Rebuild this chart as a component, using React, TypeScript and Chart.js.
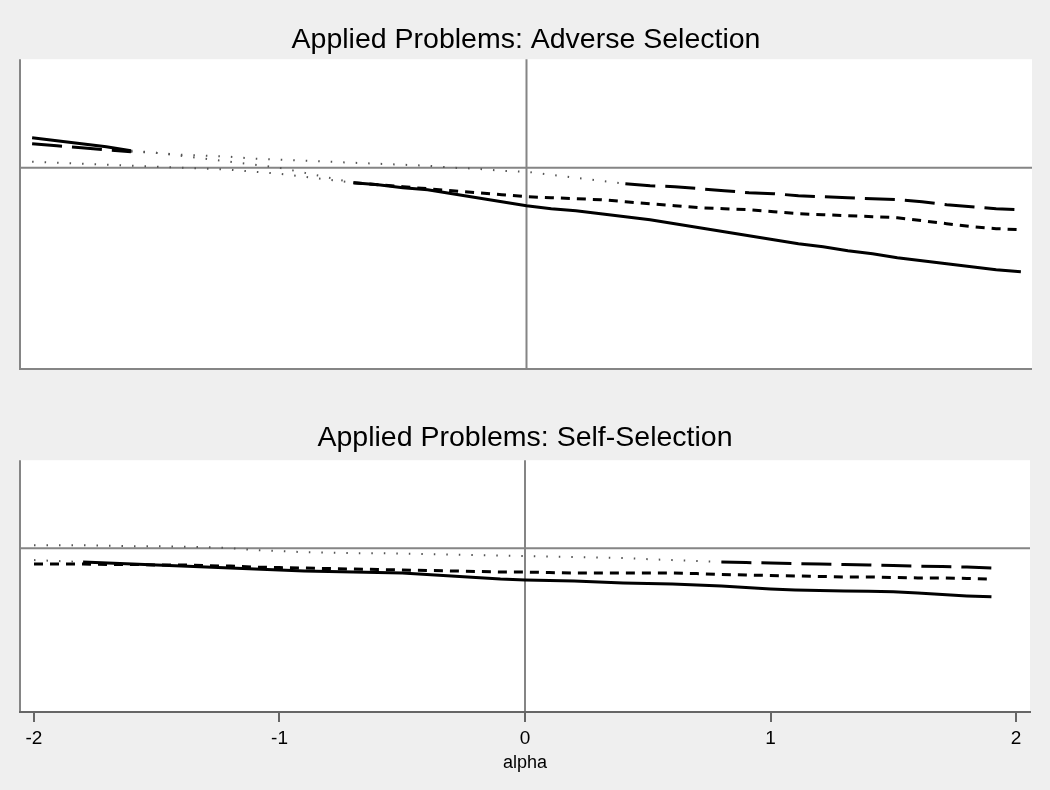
import React, { useEffect, useRef } from "react";
import { Chart, registerables } from "chart.js";
Chart.register(...registerables);

// ---------- data ----------
const alphaTop = [-2.0, -1.9, -1.8, -1.7, -1.6, -1.5, -1.4, -1.3, -1.2, -1.1, -1.0, -0.9, -0.8, -0.7, -0.6, -0.5, -0.4, -0.3, -0.2, -0.1, 0.0, 0.1, 0.2, 0.3, 0.4, 0.5, 0.6, 0.7, 0.8, 0.9, 1.0, 1.1, 1.2, 1.3, 1.4, 1.5, 1.6, 1.7, 1.8, 1.9, 2.0];
const alphaBottom = [-2.0, -1.9, -1.8, -1.7, -1.6, -1.5, -1.4, -1.3, -1.2, -1.1, -1.0, -0.9, -0.8, -0.7, -0.6, -0.5, -0.4, -0.3, -0.2, -0.1, 0.0, 0.1, 0.2, 0.3, 0.4, 0.5, 0.6, 0.7, 0.8, 0.9, 1.0, 1.1, 1.2, 1.3, 1.4, 1.5, 1.6, 1.7, 1.8, 1.9];

// Adverse selection
const adverseSolid = [0.150, 0.135, 0.120, 0.105, 0.085, 0.075, 0.060, 0.045, 0.030, 0.015, 0.000, -0.025, -0.050, -0.075, -0.085, -0.100, -0.110, -0.130, -0.150, -0.170, -0.190, -0.205, -0.215, -0.230, -0.245, -0.260, -0.280, -0.300, -0.320, -0.340, -0.360, -0.380, -0.395, -0.415, -0.430, -0.450, -0.465, -0.480, -0.495, -0.510, -0.520];
const adverseSolidSig = [1, 1, 1, 1, 1, 0, 0, 0, 0, 0, 0, 0, 0, 1, 1, 1, 1, 1, 1, 1, 1, 1, 1, 1, 1, 1, 1, 1, 1, 1, 1, 1, 1, 1, 1, 1, 1, 1, 1, 1, 1];
const adverseShort = [0.030, 0.025, 0.020, 0.015, 0.010, 0.005, 0.000, -0.005, -0.010, -0.020, -0.030, -0.045, -0.060, -0.075, -0.085, -0.095, -0.105, -0.115, -0.125, -0.135, -0.145, -0.150, -0.155, -0.160, -0.170, -0.180, -0.190, -0.200, -0.205, -0.210, -0.220, -0.230, -0.235, -0.240, -0.245, -0.250, -0.265, -0.280, -0.295, -0.305, -0.310];
const adverseShortSig = [0, 0, 0, 0, 0, 0, 0, 0, 0, 0, 0, 0, 0, 1, 1, 1, 1, 1, 1, 1, 1, 1, 1, 1, 1, 1, 1, 1, 1, 1, 1, 1, 1, 1, 1, 1, 1, 1, 1, 1, 1];
const adverseLong = [0.120, 0.110, 0.100, 0.090, 0.080, 0.075, 0.065, 0.060, 0.055, 0.045, 0.040, 0.035, 0.030, 0.025, 0.020, 0.015, 0.010, 0.000, -0.005, -0.015, -0.020, -0.035, -0.050, -0.065, -0.080, -0.090, -0.095, -0.105, -0.115, -0.125, -0.130, -0.140, -0.145, -0.150, -0.155, -0.160, -0.170, -0.185, -0.195, -0.205, -0.210];
const adverseLongSig = [1, 1, 1, 1, 1, 0, 0, 0, 0, 0, 0, 0, 0, 0, 0, 0, 0, 0, 0, 0, 0, 0, 0, 0, 1, 1, 1, 1, 1, 1, 1, 1, 1, 1, 1, 1, 1, 1, 1, 1, 1];

// Self-selection
const selfSolid = [-0.074, -0.080, -0.086, -0.092, -0.098, -0.104, -0.111, -0.117, -0.123, -0.129, -0.135, -0.141, -0.144, -0.148, -0.151, -0.154, -0.163, -0.172, -0.181, -0.191, -0.197, -0.200, -0.203, -0.209, -0.215, -0.218, -0.221, -0.227, -0.234, -0.243, -0.252, -0.258, -0.261, -0.264, -0.267, -0.270, -0.277, -0.286, -0.295, -0.301];
const selfSolidSig = [0, 0, 1, 1, 1, 1, 1, 1, 1, 1, 1, 1, 1, 1, 1, 1, 1, 1, 1, 1, 1, 1, 1, 1, 1, 1, 1, 1, 1, 1, 1, 1, 1, 1, 1, 1, 1, 1, 1, 1];
const selfShort = [-0.098, -0.098, -0.098, -0.101, -0.101, -0.104, -0.104, -0.108, -0.111, -0.117, -0.120, -0.123, -0.126, -0.129, -0.132, -0.135, -0.138, -0.141, -0.144, -0.148, -0.148, -0.151, -0.154, -0.154, -0.154, -0.154, -0.154, -0.157, -0.163, -0.166, -0.169, -0.172, -0.175, -0.178, -0.178, -0.181, -0.184, -0.184, -0.187, -0.191];
const selfShortSig = [1, 1, 1, 1, 1, 1, 1, 1, 1, 1, 1, 1, 1, 1, 1, 1, 1, 1, 1, 1, 1, 1, 1, 1, 1, 1, 1, 1, 1, 1, 1, 1, 1, 1, 1, 1, 1, 1, 1, 1];
const selfLong = [0.018, 0.018, 0.018, 0.015, 0.012, 0.012, 0.009, 0.006, 0.000, -0.012, -0.018, -0.025, -0.028, -0.031, -0.031, -0.034, -0.037, -0.040, -0.043, -0.046, -0.049, -0.052, -0.055, -0.058, -0.061, -0.068, -0.074, -0.080, -0.086, -0.089, -0.092, -0.095, -0.098, -0.101, -0.104, -0.108, -0.111, -0.114, -0.117, -0.123];
const selfLongSig = [0, 0, 0, 0, 0, 0, 0, 0, 0, 0, 0, 0, 0, 0, 0, 0, 0, 0, 0, 0, 0, 0, 0, 0, 0, 0, 0, 0, 1, 1, 1, 1, 1, 1, 1, 1, 1, 1, 1, 1];

const xTickValues = [-2, -1, 0, 1, 2];
const xAxisTitle = "alpha";
const titleTop = "Applied Problems: Adverse Selection";
const titleBottom = "Applied Problems: Self-Selection";
const yMin = -1.012;
const yMax = 0.543;

// ---------- styles ----------
const FONT = "'Liberation Sans', Arial, Helvetica, sans-serif";
const BG = "#efefef";
const FRAME = "#858585";
const DOT_DASH = [1.5, 11];
const DOT_COLOR = "#555";
const DOT_WIDTH = 2;

type Pattern = "solid" | "short" | "long";
const patternDash: Record<Pattern, number[]> = {
  solid: [],
  short: [9, 7],
  long: [30, 10],
};

function makeDataset(xs: number[], ys: number[], sig: number[], pattern: Pattern) {
  const isSig = (i: number) => sig[i] === 1;
  return {
    data: xs.map((x, i) => ({ x, y: ys[i] })),
    borderColor: "#000",
    borderWidth: 3,
    borderDash: patternDash[pattern],
    pointRadius: 0,
    tension: 0,
    fill: false,
    segment: {
      borderDash: (ctx: any) =>
        isSig(ctx.p0DataIndex) && isSig(ctx.p1DataIndex) ? undefined : DOT_DASH,
      borderColor: (ctx: any) =>
        isSig(ctx.p0DataIndex) && isSig(ctx.p1DataIndex) ? undefined : DOT_COLOR,
      borderWidth: (ctx: any) =>
        isSig(ctx.p0DataIndex) && isSig(ctx.p1DataIndex) ? undefined : DOT_WIDTH,
    },
  };
}

const framePlugin = (drawBottom: boolean) => ({
  id: "panelFrame",
  beforeDraw(chart: any) {
    const { ctx, chartArea, scales } = chart;
    const { left, right, top, bottom } = chartArea;
    ctx.save();
    ctx.fillStyle = "#ffffff";
    ctx.fillRect(left, top, right - left, bottom - top);
    ctx.strokeStyle = FRAME;
    ctx.lineWidth = 2;
    const y0 = scales.y.getPixelForValue(0);
    const x0 = scales.x.getPixelForValue(0);
    ctx.beginPath();
    ctx.moveTo(left, y0);
    ctx.lineTo(right, y0);
    ctx.moveTo(x0, top);
    ctx.lineTo(x0, bottom);
    ctx.moveTo(left, top);
    ctx.lineTo(left, bottom);
    if (drawBottom) {
      ctx.moveTo(left, bottom - 1);
      ctx.lineTo(right, bottom - 1);
    }
    ctx.stroke();
    ctx.restore();
  },
});

export default function App() {
  const topRef = useRef<HTMLCanvasElement | null>(null);
  const bottomRef = useRef<HTMLCanvasElement | null>(null);

  useEffect(() => {
    const top = new Chart(topRef.current as HTMLCanvasElement, {
      type: "line",
      data: {
        datasets: [
          makeDataset(alphaTop, adverseSolid, adverseSolidSig, "solid"),
          makeDataset(alphaTop, adverseShort, adverseShortSig, "short"),
          makeDataset(alphaTop, adverseLong, adverseLongSig, "long"),
        ] as any,
      },
      options: {
        responsive: false,
        animation: false,
        events: [],
        layout: { padding: { left: 20, right: 18, top: 0, bottom: 15 } },
        plugins: {
          legend: { display: false },
          tooltip: { enabled: false },
          title: {
            display: true,
            text: titleTop,
            color: "#000",
            font: { family: FONT, size: 28.5, weight: "normal", lineHeight: 1.2 },
            padding: { top: 23, bottom: 2 },
          },
        },
        scales: {
          x: { type: "linear", min: -2.049, max: 2.045, display: false },
          y: { type: "linear", min: yMin, max: yMax, display: false },
        },
      },
      plugins: [framePlugin(true)],
    } as any);

    const bottom = new Chart(bottomRef.current as HTMLCanvasElement, {
      type: "line",
      data: {
        datasets: [
          makeDataset(alphaBottom, selfSolid, selfSolidSig, "solid"),
          makeDataset(alphaBottom, selfShort, selfShortSig, "short"),
          makeDataset(alphaBottom, selfLong, selfLongSig, "long"),
        ] as any,
      },
      options: {
        responsive: false,
        animation: false,
        events: [],
        layout: { padding: { left: 20, right: 20, top: 0, bottom: 19 } },
        plugins: {
          legend: { display: false },
          tooltip: { enabled: false },
          title: {
            display: true,
            text: titleBottom,
            color: "#000",
            font: { family: FONT, size: 28.5, weight: "normal", lineHeight: 1.2 },
            padding: { top: 36, bottom: 5 },
          },
        },
        scales: {
          x: {
            type: "linear",
            min: -2.057,
            max: 2.057,
            afterBuildTicks: (axis: any) => {
              axis.ticks = xTickValues.map((v) => ({ value: v }));
            },
            ticks: {
              autoSkip: false,
              maxRotation: 0,
              padding: 5,
              color: "#000",
              font: { family: FONT, size: 19, lineHeight: 1.2 },
              callback: (v: any) => String(v),
            },
            grid: {
              drawOnChartArea: false,
              drawTicks: true,
              tickLength: 10,
              color: "#666",
              lineWidth: 2,
            },
            border: { display: true, color: "#666", width: 2 },
            title: {
              display: true,
              text: xAxisTitle,
              color: "#000",
              font: { family: FONT, size: 18, lineHeight: 0.9 },
              padding: { top: 0, bottom: 0 },
            },
          },
          y: { type: "linear", min: yMin, max: yMax, display: false },
        },
      },
      plugins: [framePlugin(false)],
    } as any);

    return () => {
      top.destroy();
      bottom.destroy();
    };
  }, []);

  return (
    <div
      style={{
        position: "absolute",
        left: 0,
        top: 0,
        width: 1050,
        height: 790,
        background: BG,
        overflow: "hidden",
      }}
    >
      <canvas
        ref={topRef}
        width={1050}
        height={385}
        style={{ position: "absolute", left: 0, top: 0, width: 1050, height: 385, display: "block" }}
      />
      <canvas
        ref={bottomRef}
        width={1050}
        height={405}
        style={{ position: "absolute", left: 0, top: 385, width: 1050, height: 405, display: "block" }}
      />
    </div>
  );
}
